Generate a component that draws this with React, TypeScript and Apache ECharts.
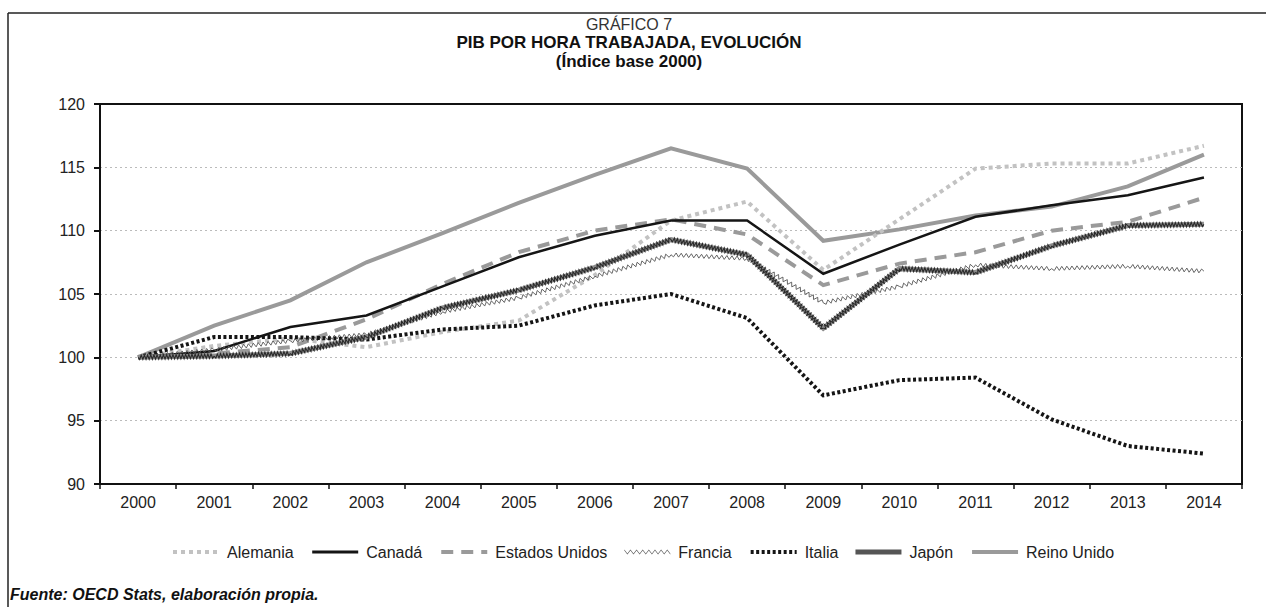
import React, { useEffect, useRef } from "react";
import * as echarts from "echarts";

const years = ["2000", "2001", "2002", "2003", "2004", "2005", "2006", "2007", "2008", "2009", "2010", "2011", "2012", "2013", "2014"];
const alemania = [100, 100.9, 101.5, 100.8, 102.0, 102.9, 106.5, 110.8, 112.3, 106.9, 110.9, 114.9, 115.3, 115.3, 116.7];
const canada = [100, 100.5, 102.4, 103.3, 105.6, 107.9, 109.6, 110.8, 110.8, 106.6, 108.9, 111.1, 112.0, 112.8, 114.2];
const eeuu = [100, 100.3, 100.8, 103.0, 105.8, 108.3, 110.0, 110.9, 109.7, 105.7, 107.4, 108.3, 110.0, 110.7, 112.6];
const francia = [100, 100.6, 101.3, 101.8, 103.6, 104.7, 106.4, 108.1, 107.8, 104.3, 105.6, 107.3, 107.0, 107.2, 106.8];
const italia = [100, 101.6, 101.6, 101.4, 102.2, 102.5, 104.1, 105.0, 103.1, 97.0, 98.2, 98.4, 95.1, 93.0, 92.4];
const japon = [100, 100.1, 100.3, 101.6, 103.9, 105.3, 107.1, 109.3, 108.1, 102.3, 107.0, 106.7, 108.8, 110.4, 110.5];
const reinoUnido = [100, 102.5, 104.5, 107.5, 109.8, 112.2, 114.4, 116.5, 114.9, 109.2, 110.1, 111.2, 111.9, 113.5, 116.0];

const FONT = '"Liberation Sans", Arial, Helvetica, sans-serif';

function zigzagPathIcon(w: number, step: number, h: number, t: number) {
  const top: string[] = [];
  const bot: string[] = [];
  let k = 0;
  for (let x = 0; x <= w + 0.001; x += step, k++) {
    const y = k % 2 === 0 ? 0 : h;
    top.push(`${x},${y}`);
    bot.unshift(`${x},${y + t}`);
  }
  return "path://M" + top.join(" L") + " L" + bot.join(" L") + " Z";
}

function zigzagSeries(name: string | undefined, data: number[], color: string, width: number, amp: number, period: number, z: number) {
  return {
    type: "custom",
    name,
    z,
    coordinateSystem: "cartesian2d",
    itemStyle: { color },
    encode: { x: 0, y: 1 },
    data: data.map((v, i) => [i, v]),
    renderItem: (params: any, api: any) => {
      const i = params.dataIndex;
      if (i >= data.length - 1) return { type: "group", children: [] };
      const p0 = api.coord([i, data[i]]);
      const p1 = api.coord([i + 1, data[i + 1]]);
      const dx = p1[0] - p0[0];
      const dy = p1[1] - p0[1];
      const len = Math.hypot(dx, dy);
      const nx = -dy / len;
      const ny = dx / len;
      const n = Math.max(2, Math.round((len / period) * 2));
      const pts: number[][] = [];
      for (let k = 0; k <= n; k++) {
        const t = k / n;
        const s = k === 0 || k === n ? 0 : (k % 2 ? 1 : -1) * amp;
        pts.push([p0[0] + dx * t + nx * s, p0[1] + dy * t + ny * s]);
      }
      return {
        type: "polyline",
        shape: { points: pts },
        style: { stroke: color, lineWidth: width, fill: null },
      };
    },
  };
}

function lineSeries(name: string, data: number[], color: string, width: number, type: any, z: number, extra: any = {}) {
  return {
    type: "line",
    name,
    data,
    z,
    symbol: "none",
    itemStyle: { color },
    lineStyle: { color, width, type, cap: "butt", join: "miter" },
    ...extra,
  };
}

const legendLine = (name: string, width: number) => ({ name, itemStyle: { opacity: 0 }, lineStyle: { width } });

export default function App() {
  const ref = useRef<HTMLDivElement>(null);
  useEffect(() => {
    document.body.style.margin = "0";
    const chart = echarts.init(ref.current!, undefined, { renderer: "svg" });
    const option: any = {
      animation: false,
      backgroundColor: "#ffffff",
      textStyle: { fontFamily: FONT },
      grid: {
        left: 100,
        right: 24,
        top: 104,
        bottom: 123,
        show: true,
        borderColor: "#111",
        borderWidth: 2,
      },
      xAxis: {
        type: "category",
        data: years,
        axisLine: { lineStyle: { color: "#111", width: 2 } },
        axisTick: { show: true, length: 5, lineStyle: { color: "#111", width: 1.5 } },
        axisLabel: { color: "#222", fontSize: 16, margin: 10, fontFamily: FONT },
        splitLine: { show: false },
      },
      yAxis: {
        type: "value",
        min: 90,
        max: 120,
        interval: 5,
        axisLine: { show: true, lineStyle: { color: "#111", width: 2 } },
        axisTick: { show: true, length: 6, lineStyle: { color: "#111", width: 2 } },
        axisLabel: { color: "#222", fontSize: 16, margin: 15, fontFamily: FONT },
        splitLine: { show: true, showMinLine: false, showMaxLine: false, lineStyle: { color: "#bbb", width: 1, type: [2, 3] } },
      },
      legend: {
        top: 539,
        left: 166,
        itemWidth: 46,
        itemHeight: 12,
        itemGap: 17,
        selectedMode: false,
        textStyle: { color: "#222", fontSize: 16, fontFamily: FONT, padding: [0, 0, 0, 3] },
        data: [
          legendLine("Alemania", 4),
          legendLine("Canadá", 3),
          legendLine("Estados Unidos", 4),
          { name: "Francia", icon: zigzagPathIcon(46, 3, 4, 0.9) },
          legendLine("Italia", 4),
          { name: "Japón", icon: "path://M0,0 L46,0 L46,5 L0,5 Z" },
          legendLine("Reino Unido", 4),
        ],
      },
      graphic: [
        { type: "line", shape: { x1: 8, y1: 13, x2: 1266, y2: 13 }, style: { stroke: "#222", lineWidth: 1.5 } },
        { type: "line", shape: { x1: 8, y1: 13, x2: 8, y2: 607 }, style: { stroke: "#222", lineWidth: 1.5 } },
        { type: "text", x: 629, y: 24, style: { text: "GRÁFICO 7", font: `16px ${FONT}`, fill: "#333", textAlign: "center", textVerticalAlign: "middle" } },
        { type: "text", x: 629, y: 42, style: { text: "PIB POR HORA TRABAJADA, EVOLUCIÓN", font: `bold 17px ${FONT}`, fill: "#111", textAlign: "center", textVerticalAlign: "middle" } },
        { type: "text", x: 629, y: 61, style: { text: "(Índice base 2000)", font: `bold 17px ${FONT}`, fill: "#111", textAlign: "center", textVerticalAlign: "middle" } },
        { type: "text", x: 10, y: 594, style: { text: "Fuente: OECD Stats, elaboración propia.", font: `italic bold 16px ${FONT}`, fill: "#111", textAlign: "left", textVerticalAlign: "middle" } },
      ],
      series: [
        lineSeries("Reino Unido", reinoUnido, "#9a9a9a", 4, "solid", 2),
        lineSeries("Alemania", alemania, "#c2c2c2", 4, [4, 4], 3),
        lineSeries("Estados Unidos", eeuu, "#9a9a9a", 4, [12, 8], 4),
        lineSeries("Canadá", canada, "#151515", 2.5, "solid", 5),
        zigzagSeries("Francia", francia, "#555555", 0.9, 2, 5, 6),
        lineSeries("Italia", italia, "#151515", 4, [3, 2.5], 7),
        lineSeries("Japón", japon, "#555555", 5, "solid", 8, { lineStyle: { color: "#8c8c8c", width: 5, type: "solid", join: "miter" } }),
        zigzagSeries(undefined, japon, "#2a2a2a", 1.1, 2.2, 3.2, 9),
      ],
    };
    chart.setOption(option);
    return () => chart.dispose();
  }, []);
  return <div ref={ref} style={{ width: 1266, height: 607 }} />;
}
